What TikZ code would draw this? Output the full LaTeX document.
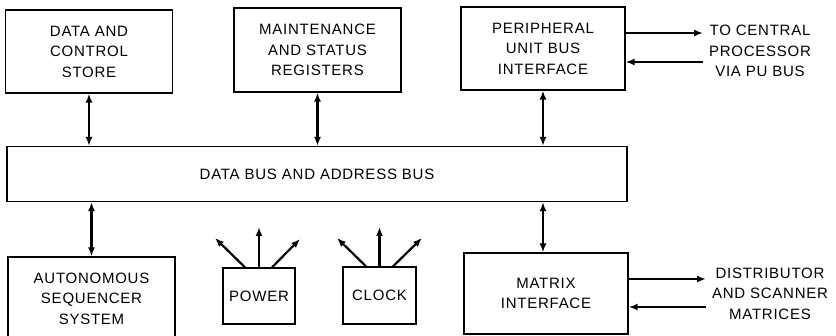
\documentclass[tikz,border=0pt]{standalone}
\usepackage{fontspec}
\setmainfont{Liberation Sans}[LetterSpace=5]
\usepackage{tikz}
\usetikzlibrary{arrows.meta,positioning}

\tikzset{
  block/.style={draw, line width=1.3pt, align=center, inner sep=0pt,
    font=\fontsize{15}{20.5}\selectfont},
  sidetext/.style={align=center, inner sep=0pt, font=\fontsize{15}{20.5}\selectfont},
  link/.style={line width=2.2pt, -{Latex[length=9pt,width=7pt]}},
  duplex/.style={line width=2.2pt, {Latex[length=9pt,width=7pt]}-{Latex[length=9pt,width=7pt]}}
}

\begin{document}
\begin{tikzpicture}[x=1pt,y=-1pt]
\useasboundingbox (0,0) rectangle (836,336);
\clip (0,0) rectangle (836,336);

\node[block, minimum width=167pt, minimum height=83pt] (store) at (89,51.5) {DATA AND\\CONTROL\\STORE};
\node[block, minimum width=167pt, minimum height=84pt] (regs) at (317.5,50) {MAINTENANCE\\AND STATUS\\REGISTERS};
\node[block, minimum width=164pt, minimum height=83pt] (pu) at (543,48.5) {PERIPHERAL\\UNIT BUS\\INTERFACE};

\node[block, minimum width=620pt, minimum height=55pt] (bus) at (317,174) {DATA BUS AND ADDRESS BUS};

\node[block, minimum width=167pt, minimum height=83pt] (seq) at (91.5,298.5) {AUTONOMOUS\\SEQUENCER\\SYSTEM};
\node[block, minimum width=72pt, minimum height=56pt] (power) at (259,296) {POWER};
\node[block, minimum width=73pt, minimum height=57pt] (clock) at (379.5,295.5) {CLOCK};
\node[block, minimum width=164pt, minimum height=81pt] (matrix) at (546,293.5) {MATRIX\\INTERFACE};

\node[sidetext] (cpu) at (760,51) {TO CENTRAL\\PROCESSOR\\VIA PU BUS};
\node[sidetext] (scan) at (770,293.5) {DISTRIBUTOR\\AND SCANNER\\MATRICES};

\draw[duplex] (store.south) -- (store.south |- bus.north);
\draw[duplex] (regs.south) -- (regs.south |- bus.north);
\draw[duplex] (pu.south) -- (pu.south |- bus.north);
\draw[duplex] (bus.south -| seq.north) -- (seq.north);
\draw[duplex] (bus.south -| pu.south) -- (matrix.north -| pu.south);

\coordinate (puout) at (703,33);
\coordinate (puin) at (703,62);
\draw[link] (pu.east |- puout) -- (puout);
\draw[link] (puin) -- (pu.east |- puin);

\coordinate (mxout) at (706,279);
\coordinate (mxin) at (706,307);
\draw[link] (matrix.east |- mxout) -- (mxout);
\draw[link] (mxin) -- (matrix.east |- mxin);

\coordinate (pwl) at (215,238);
\coordinate (pwm) at (259,227);
\coordinate (pwr) at (300,239);
\draw[link] ([xshift=-14pt]power.north) -- (pwl);
\draw[link] (power.north) -- (pwm);
\draw[link] ([xshift=13pt]power.north) -- (pwr);

\coordinate (ckl) at (337,238);
\coordinate (ckm) at (379.5,227);
\coordinate (ckr) at (422,238);
\draw[link] ([xshift=-13.5pt]clock.north) -- (ckl);
\draw[link] (clock.north) -- (ckm);
\draw[link] ([xshift=13.5pt]clock.north) -- (ckr);
\end{tikzpicture}
\end{document}
